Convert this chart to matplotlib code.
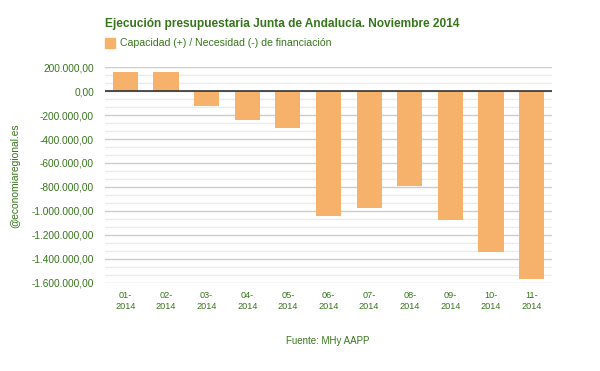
import matplotlib
matplotlib.use("Agg")
import matplotlib.pyplot as plt
from matplotlib.ticker import FuncFormatter, MultipleLocator
import numpy as np

categories = ["01-\n2014", "02-\n2014", "03-\n2014", "04-\n2014", "05-\n2014", "06-\n2014",
              "07-\n2014", "08-\n2014", "09-\n2014", "10-\n2014", "11-\n2014"]
values = [161000, 161000, -120000, -237000, -304000, -1042000,
          -975000, -790000, -1075000, -1343000, -1569000]
title = "Ejecución presupuestaria Junta de Andalucía. Noviembre 2014"
legend_label = "Capacidad (+) / Necesidad (-) de financiación"
source = "Fuente: MHy AAPP"
side_label = "@economiaregional.es"

GREEN = "#38761d"
BAR = "#f6b26b"

plt.rcParams['font.family'] = ['Liberation Sans', 'DejaVu Sans']

fig = plt.figure(figsize=(6.0, 3.71), dpi=100)
ax = fig.add_axes([105/600, 1-282.5/371, 447/600, (282.5-67.3)/371])

x = np.arange(len(categories))
ax.bar(x, values, width=0.62, color=BAR, zorder=3)

ax.set_xlim(-0.5, len(categories)-0.5)
ax.set_ylim(-1600000, 200000)

def fmt(v, pos):
    s = f"{abs(v):,.2f}"
    s = s.replace(",", "X").replace(".", ",").replace("X", ".")
    return ("-" if v < -0.5 else "") + s

ax.yaxis.set_major_locator(MultipleLocator(200000))
ax.yaxis.set_minor_locator(MultipleLocator(200000/3))
ax.yaxis.set_major_formatter(FuncFormatter(fmt))
ax.grid(axis='y', which='major', color='#cccccc', linewidth=1.0, zorder=0)
ax.grid(axis='y', which='minor', color='#ebebeb', linewidth=1.0, zorder=0)
ax.axhline(0, color='#333333', linewidth=1.2, zorder=4)

for s in ax.spines.values():
    s.set_visible(False)
ax.tick_params(axis='y', which='both', length=0, pad=8, labelsize=7.3, labelcolor=GREEN)
ax.tick_params(axis='x', length=0, pad=6, labelsize=6.6, labelcolor=GREEN)
ax.set_xticks(x)
ax.set_xticklabels(categories, linespacing=1.25)

fig.text(105/600, 1-24.5/371, title, fontsize=8.55, fontweight='bold', color=GREEN,
         ha='left', va='center')
fig.patches.append(plt.Rectangle((105/600, 1-48/371), 10/600, 10/371,
                                 transform=fig.transFigure, color=BAR, figure=fig))
fig.text(119.5/600, 1-43.5/371, legend_label, fontsize=7.6, color=GREEN,
         ha='left', va='center')
fig.text(15/600, 1-176/371, side_label, fontsize=7.4, color=GREEN, rotation=90,
         ha='center', va='center')
fig.text(328/600, 1-341/371, source, fontsize=7, color=GREEN, ha='center', va='center')

fig.savefig("out.png", dpi=100)
